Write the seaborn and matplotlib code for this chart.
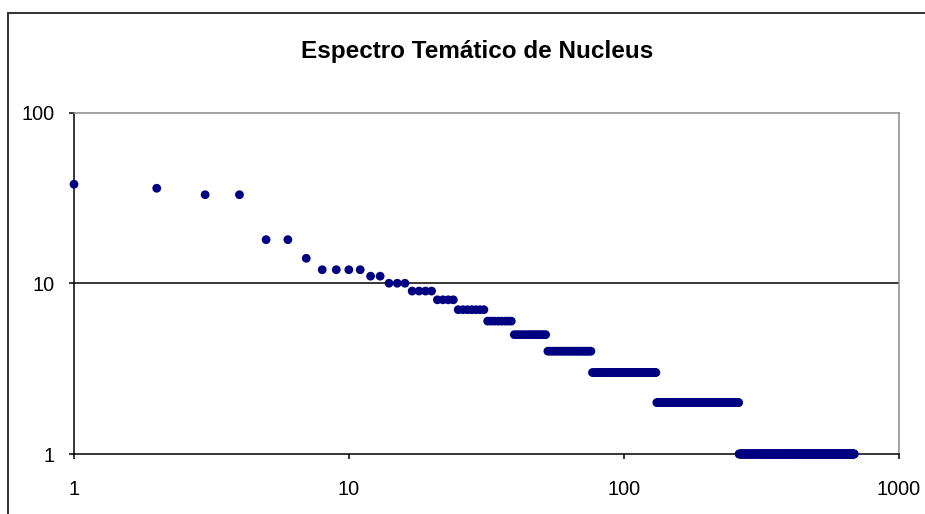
import numpy as np
import pandas as pd
import matplotlib
matplotlib.use("Agg")
import matplotlib.pyplot as plt
from matplotlib.lines import Line2D
import seaborn as sns

# ---- data (rank-frequency spectrum) ----
freq_levels = [38, 36, 33, 33, 18, 18, 14, 12, 11, 10, 9, 8, 7, 6, 5, 4, 3, 2, 1]
words_per_level = [1, 1, 1, 1, 1, 1, 1, 4, 2, 3, 4, 4, 7, 8, 13, 24, 55, 131, 428]
x_ticks = [1, 10, 100, 1000]
x_tick_labels = ["1", "10", "100", "1000"]
y_ticks = [1, 10, 100]
y_tick_labels = ["1", "10", "100"]
title = "Espectro Temático de Nucleus"

frequency = np.repeat(freq_levels, words_per_level)
rank = np.arange(1, len(frequency) + 1)
df = pd.DataFrame({"rank": rank, "frequency": frequency})

sns.set_style("white")
plt.rcParams["font.family"] = ["Liberation Sans", "DejaVu Sans"]

W, H = 925, 514
fig = plt.figure(figsize=(W / 100, H / 100), dpi=100)
fig.patch.set_facecolor("white")

ax = fig.add_axes([74 / W, 1 - 454 / H, (898.5 - 74) / W, (454 - 112.5) / H])

sns.scatterplot(data=df, x="rank", y="frequency", ax=ax, color="#000080",
                s=40, marker="o", edgecolor="none", linewidth=0,
                clip_on=False, zorder=5, legend=False)

ax.set_xscale("log")
ax.set_yscale("log")
ax.set_xlim(1, 1000)
ax.set_ylim(1, 100)
ax.set_xticks(x_ticks)
ax.set_xticklabels(x_tick_labels)
ax.set_yticks(y_ticks)
ax.set_yticklabels(y_tick_labels)
ax.minorticks_off()
ax.set_xlabel("")
ax.set_ylabel("")

# gridline at 10
ax.axhline(10, color="black", lw=1.1, zorder=1)

for side in ["left", "bottom"]:
    ax.spines[side].set_color("black")
    ax.spines[side].set_linewidth(1.1)
for side in ["top", "right"]:
    ax.spines[side].set_color("#8c8c8c")
    ax.spines[side].set_linewidth(1.1)
    ax.spines[side].set_visible(True)

ax.tick_params(axis="both", which="major", direction="out", length=3.8,
               width=1.1, color="black", labelsize=14.3, labelcolor="black")
ax.tick_params(axis="x", pad=15, bottom=True)
ax.tick_params(axis="y", pad=10, left=True)

fig.text(477.5 / W, 1 - 58 / H, title, ha="center", va="baseline",
         fontsize=17.5, fontweight="bold", color="black")

# outer chart-area border (extends past right and bottom edges)
bx, by = 8 / W, 1 - 13 / H
fig.add_artist(Line2D([bx, 1.01], [by, by], transform=fig.transFigure,
                      color="#303030", lw=1.4))
fig.add_artist(Line2D([bx, bx], [-0.01, by], transform=fig.transFigure,
                      color="#303030", lw=1.4))

fig.savefig("out.png", dpi=100, facecolor="white")
